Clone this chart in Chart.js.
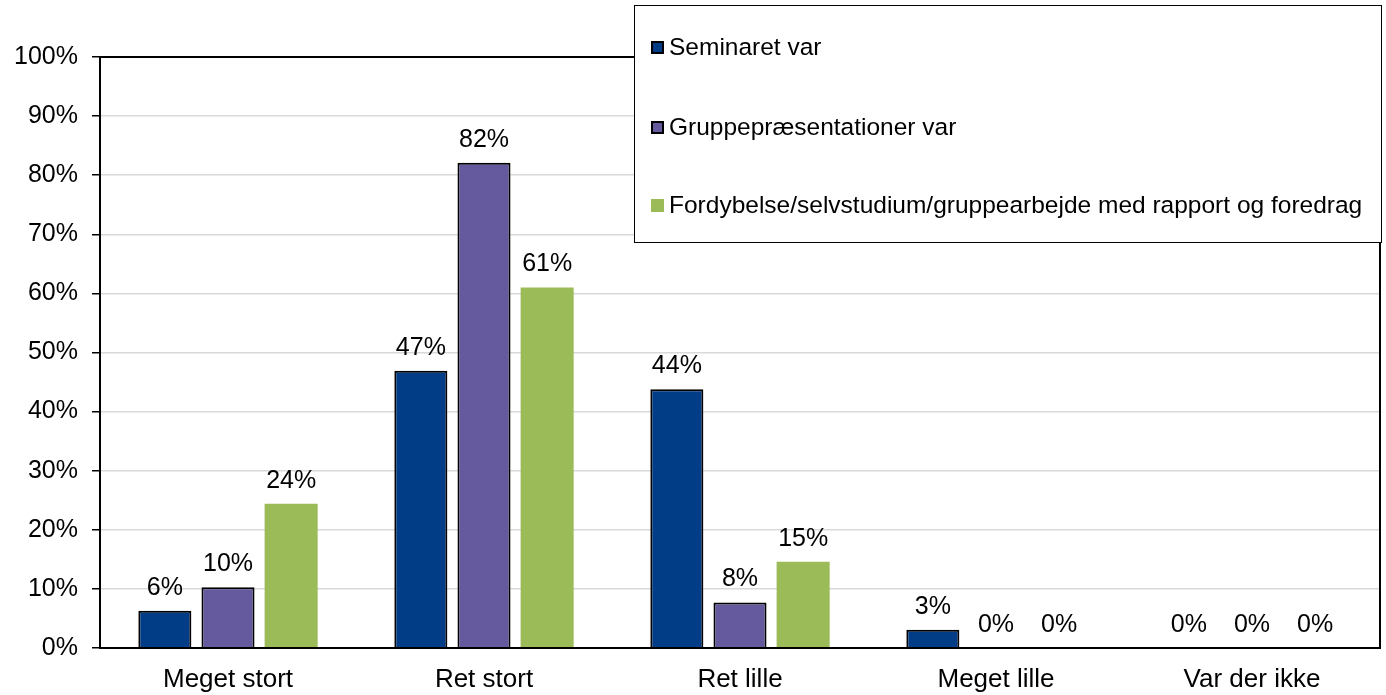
<!DOCTYPE html>
<html>
<head>
<meta charset="utf-8">
<script src="https://cdn.jsdelivr.net/npm/chart.js@4/dist/chart.umd.min.js"></script>
<style>
  html, body { margin: 0; padding: 0; background: #fff; }
  #wrap { width: 1386px; height: 695px; }
</style>
</head>
<body>
<div id="wrap"><canvas id="myChart" width="1386" height="695"></canvas></div>
<script>
// data
const categories = ['Meget stort', 'Ret stort', 'Ret lille', 'Meget lille', 'Var der ikke'];
const seriesNames = ['Seminaret var', 'Gruppepræsentationer var', 'Fordybelse/selvstudium/gruppearbejde med rapport og foredrag'];
const seminar = [6.3, 46.9, 43.8, 3.1, 0];
const gruppe = [10.3, 82.1, 7.7, 0, 0];
const fordybelse = [24.4, 61.0, 14.6, 0, 0];
const yTicks = [0, 10, 20, 30, 40, 50, 60, 70, 80, 90, 100];

const colors = ['#003D86', '#665A9E', '#9BBB59'];
const FONT = "'Liberation Sans', Arial, sans-serif";

Chart.defaults.font.family = FONT;
Chart.defaults.color = '#000';

// value labels above bars
const valueLabels = {
  id: 'valueLabels',
  afterDatasetsDraw(chart) {
    const ctx = chart.ctx;
    ctx.save();
    ctx.font = '25px ' + FONT;
    ctx.fillStyle = '#000';
    ctx.textAlign = 'center';
    ctx.textBaseline = 'alphabetic';
    chart.data.datasets.forEach((ds, i) => {
      chart.getDatasetMeta(i).data.forEach((bar, j) => {
        ctx.fillText(Math.round(ds.data[j]) + '%', bar.x, bar.y - 16);
      });
    });
    ctx.restore();
  }
};

// frame round the plot area + legend box on top
const frameAndLegend = {
  id: 'frameAndLegend',
  afterDraw(chart) {
    const ctx = chart.ctx;
    const a = chart.chartArea;
    ctx.save();
    ctx.strokeStyle = '#000';
    ctx.lineWidth = 2;
    ctx.strokeRect(a.left, a.top, a.right - a.left, a.bottom - a.top);

    // legend
    const lx = 634, ly = 5, lw = 747, lh = 237;
    ctx.fillStyle = '#fff';
    ctx.fillRect(lx, ly, lw, lh);
    ctx.lineWidth = 1;
    ctx.strokeStyle = '#000';
    ctx.strokeRect(lx + 0.5, ly + 0.5, lw, lh);
    ctx.font = '24.5px ' + FONT;
    ctx.textBaseline = 'middle';
    ctx.textAlign = 'left';
    const rows = [47, 127, 205];
    chart.data.datasets.forEach((ds, i) => {
      const y = rows[i];
      ctx.fillStyle = ds.backgroundColor;
      ctx.fillRect(651, y - 6, 13, 13);
      if (ds.borderWidth) {
        ctx.strokeStyle = '#000';
        ctx.lineWidth = 2;
        ctx.strokeRect(652, y - 5, 11, 11);
      }
      ctx.fillStyle = '#000';
      ctx.fillText(ds.label, 669, y + 1);
    });
    ctx.restore();
  }
};

new Chart(document.getElementById('myChart').getContext('2d'), {
  type: 'bar',
  data: {
    labels: categories,
    datasets: [
      { label: seriesNames[0], data: seminar, backgroundColor: colors[0], borderColor: '#000', borderWidth: 2 },
      { label: seriesNames[1], data: gruppe, backgroundColor: colors[1], borderColor: '#000', borderWidth: 2 },
      { label: seriesNames[2], data: fordybelse, backgroundColor: colors[2], borderWidth: 0 }
    ]
  },
  options: {
    responsive: false,
    animation: false,
    maintainAspectRatio: false,
    layout: { padding: { top: 57, right: 6, left: 0, bottom: 0 } },
    categoryPercentage: 0.74,
    barPercentage: 0.84,
    plugins: {
      legend: { display: false },
      tooltip: { enabled: false }
    },
    scales: {
      x: {
        grid: { display: false },
        border: { color: '#000', width: 2 },
        ticks: { font: { size: 26 }, color: '#000', padding: 8 },
        afterFit(scale) { scale.height = 47; }
      },
      y: {
        min: 0,
        max: 100,
        afterBuildTicks(scale) { scale.ticks = yTicks.map(v => ({ value: v })); },
        grid: { color: '#d9d9d9', lineWidth: 1.5, tickColor: '#000', tickLength: 8 },
        border: { color: '#000', width: 2 },
        ticks: { font: { size: 25 }, color: '#000', padding: 14, callback: v => v + '%' },
        afterFit(scale) { scale.width = 100; }
      }
    }
  },
  plugins: [valueLabels, frameAndLegend]
});
</script>
</body>
</html>
